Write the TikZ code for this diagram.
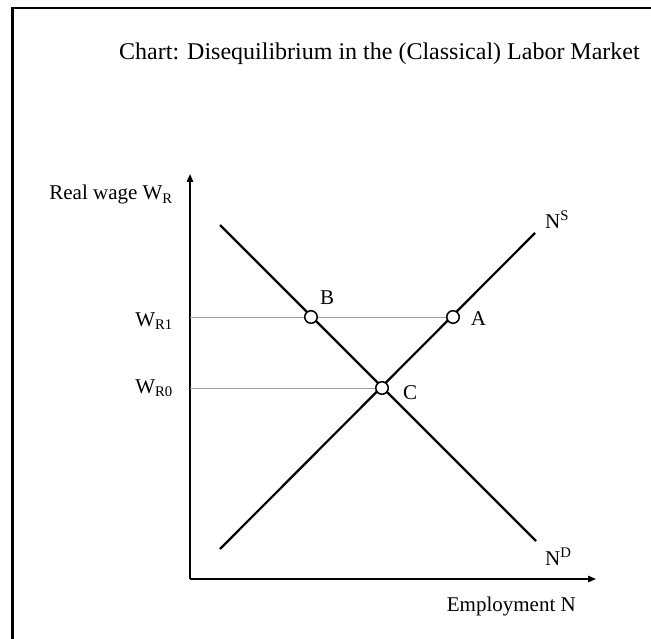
\documentclass[tikz,border=0pt]{standalone}
\usepackage{fontspec}
\setmainfont{Liberation Serif}
\usetikzlibrary{arrows.meta}
\begin{document}
\begin{tikzpicture}[x=1pt,y=-1pt,
  frameline/.style={line width=2.4pt,black},
  axisline/.style={line width=1.4pt,-{Triangle[length=8pt,width=6.5pt]}},
  curveline/.style={line width=2.2pt,line cap=butt},
  guideline/.style={line width=0.8pt,gray!75},
  ptnode/.style={circle,draw=black,fill=white,line width=1.5pt,minimum size=12.5pt,inner sep=0pt},
  lbl/.style={font=\fontsize{21}{25}\selectfont,inner sep=0pt},
  ttl/.style={font=\fontsize{24}{28}\selectfont,inner sep=0pt}]
\useasboundingbox (0,0) rectangle (651,639);
% frame
\draw[frameline] (12.5,640) -- (12.5,8) -- (652,8);
% title
\node[ttl,anchor=base west] (title) at (119,59.3) {Chart: Disequilibrium in the (Classical) Labor Market};
% axes
\coordinate (O) at (190,579);
\coordinate (ytop) at (190,174);
\coordinate (xend) at (596,579);
\draw[axisline] (O) -- (ytop);
\draw[axisline] (O) -- (xend);
% points
\coordinate (pA) at (453,317);
\coordinate (pB) at (311,317);
\coordinate (pC) at (382,388);
\coordinate (wr1) at (190,317);
\coordinate (wr0) at (190,388);
% guides
\draw[guideline] (wr1) -- (pA);
\draw[guideline] (wr0) -- (pC);
% curves
\coordinate (s0) at (220,549);
\coordinate (s1) at (535,233);
\coordinate (d0) at (220,225);
\coordinate (d1) at (536,541);
\draw[curveline] (s0) -- (s1);
\draw[curveline] (d0) -- (d1);
% point markers
\node[ptnode] (A) at (pA) {};
\node[ptnode] (B) at (pB) {};
\node[ptnode] (C) at (pC) {};
% labels
\node[lbl,anchor=base east] (ylab) at (173,200) {Real wage W\textsubscript{R}};
\node[lbl,anchor=base east] (lwr1) at (173,326.5) {W\textsubscript{R1}};
\node[lbl,anchor=base east] (lwr0) at (173,393.5) {W\textsubscript{R0}};
\node[lbl,anchor=base west] (lNS) at (545,228.3) {N\textsuperscript{S}};
\node[lbl,anchor=base west] (lND) at (545,565) {N\textsuperscript{D}};
\node[lbl,anchor=base west] (xlab) at (446.7,611.7) {Employment N};
\node[lbl,anchor=base west] (lB) at (320,305) {B};
\node[lbl,anchor=base west] (lC) at (403,399.3) {C};
\node[lbl,anchor=base west] (lA) at (470.7,326) {A};
\end{tikzpicture}
\end{document}
